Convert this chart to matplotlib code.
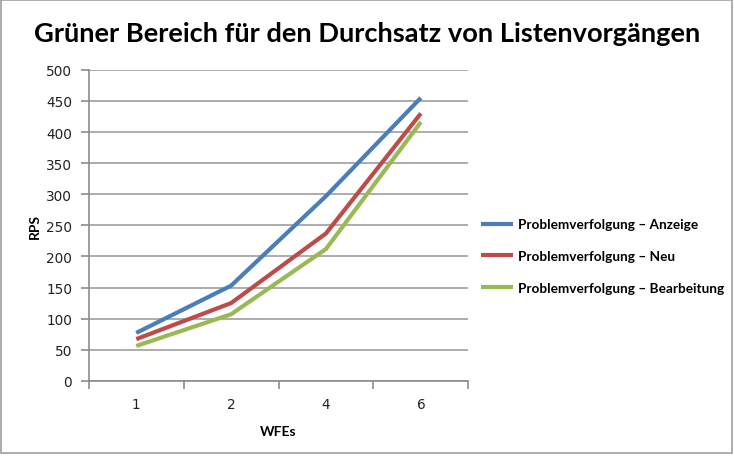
import matplotlib
matplotlib.use("Agg")
import matplotlib.pyplot as plt
from matplotlib.patches import Rectangle
import numpy as np

categories = ["1", "2", "4", "6"]
anzeige = [77, 153, 297, 455]
neu = [67, 125, 237, 430]
bearbeitung = [56, 107, 212, 416]
series_names = ["Problemverfolgung – Anzeige", "Problemverfolgung – Neu", "Problemverfolgung – Bearbeitung"]
colors = ["#4A7EBB", "#BE4B48", "#98B954"]
yticks = [0, 50, 100, 150, 200, 250, 300, 350, 400, 450, 500]

fig = plt.figure(figsize=(7.34, 4.60), dpi=100)
ax = fig.add_axes([0.121, 0.170, 0.517, 0.676])

x = np.arange(len(categories))
for vals, name, c in zip([anzeige, neu, bearbeitung], series_names, colors):
    ax.plot(x, vals, color=c, lw=3, label=name, solid_capstyle="butt", zorder=3)

ax.set_xlim(-0.5, len(categories) - 0.5)
ax.set_ylim(0, 500)
ax.set_yticks(yticks)
ax.set_xticks(x)
ax.set_xticklabels(categories)
ax.set_xticks(np.arange(-0.5, len(categories)), minor=True)
ax.tick_params(axis="x", which="major", length=0, pad=12, labelsize=9.8, colors="#222222")
ax.tick_params(axis="x", which="minor", length=6, width=1.2, color="#8C8C8C", direction="out")
ax.tick_params(axis="y", length=6, width=1.2, color="#8C8C8C", labelsize=9.8, labelcolor="#222222", pad=6)
ax.grid(axis="y", color="#A6A6A6", lw=1.3, zorder=0)
for s in ["top", "right"]:
    ax.spines[s].set_visible(False)
for s in ["left", "bottom"]:
    ax.spines[s].set_color("#8C8C8C")
    ax.spines[s].set_linewidth(1.2)

ax.set_xlabel("WFEs", fontweight="bold", fontsize=10, family=["Lato", "DejaVu Sans"], labelpad=10)
ax.set_ylabel("RPS", fontweight="bold", fontsize=10, family=["Lato", "DejaVu Sans"], labelpad=4)

fig.text(0.5, 0.927, "Grüner Bereich für den Durchsatz von Listenvorgängen", ha="center", va="center",
         fontsize=19.6, fontweight="bold", family=["Lato", "DejaVu Sans"])

leg = fig.legend(*ax.get_legend_handles_labels(), loc="center left",
                 bbox_to_anchor=(481 / 734, 1 - 257 / 460), bbox_transform=fig.transFigure,
                 frameon=False, borderpad=0, borderaxespad=0,
                 prop={"family": ["Lato", "DejaVu Sans"], "weight": "bold", "size": 9.8},
                 handlelength=2.35, handletextpad=0.35, labelspacing=1.45)

fig.patches.append(Rectangle((0.001, 0.012), 0.996, 0.985, transform=fig.transFigure,
                             fill=False, edgecolor="#A0A0A0", lw=1.2))

fig.savefig("out.png", dpi=100)
